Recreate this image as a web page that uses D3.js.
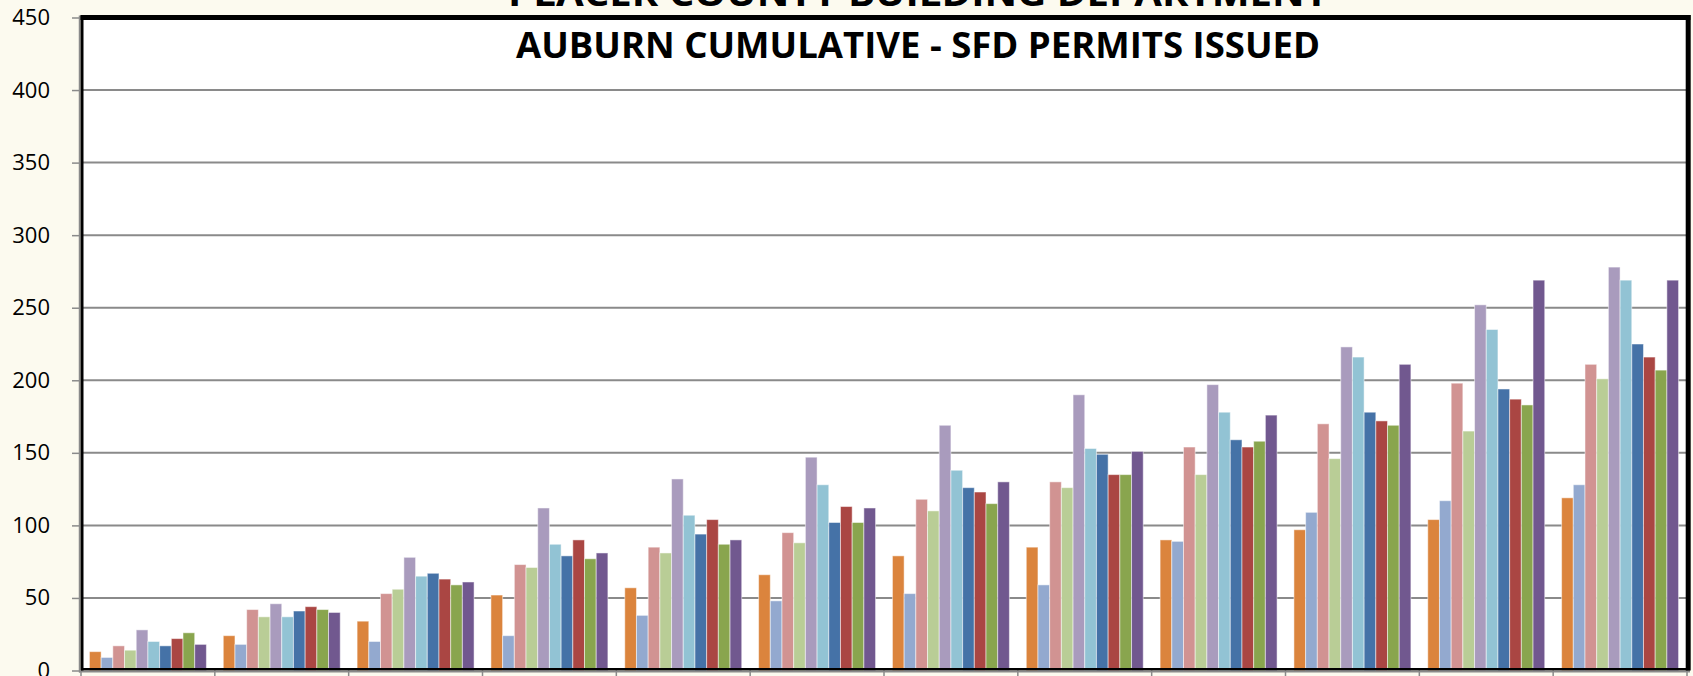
<!DOCTYPE html>
<html>
<head>
<meta charset="utf-8">
<script src="https://cdn.jsdelivr.net/npm/d3@7"></script>
<style>
  html, body { margin: 0; padding: 0; background: #FCFAEF; overflow: hidden; }
  svg { display: block; }
</style>
</head>
<body>
<svg id="chart" width="1693" height="676"></svg>
<script>
// ---------------- DATA ----------------
const months = ["Jan", "Feb", "Mar", "Apr", "May", "Jun", "Jul", "Aug", "Sep", "Oct", "Nov", "Dec"];
const seriesNames = ["Series 1", "Series 2", "Series 3", "Series 4", "Series 5",
                     "Series 6", "Series 7", "Series 8", "Series 9", "Series 10"];
const series1  = [13, 24, 34, 52, 57, 66, 79, 85, 90, 97, 104, 119];
const series2  = [9, 18, 20, 24, 38, 48, 53, 59, 89, 109, 117, 128];
const series3  = [17, 42, 53, 73, 85, 95, 118, 130, 154, 170, 198, 211];
const series4  = [14, 37, 56, 71, 81, 88, 110, 126, 135, 146, 165, 201];
const series5  = [28, 46, 78, 112, 132, 147, 169, 190, 197, 223, 252, 278];
const series6  = [20, 37, 65, 87, 107, 128, 138, 153, 178, 216, 235, 269];
const series7  = [17, 41, 67, 79, 94, 102, 126, 149, 159, 178, 194, 225];
const series8  = [22, 44, 63, 90, 104, 113, 123, 135, 154, 172, 187, 216];
const series9  = [26, 42, 59, 77, 87, 102, 115, 135, 158, 169, 183, 207];
const series10 = [18, 40, 61, 81, 90, 112, 130, 151, 176, 211, 269, 269];
const yTicks = [0, 50, 100, 150, 200, 250, 300, 350, 400, 450];
const titleLine1 = "PLACER COUNTY BUILDING DEPARTMENT";
const titleLine2 = "AUBURN CUMULATIVE - SFD PERMITS ISSUED";

const seriesValues = [series1, series2, series3, series4, series5,
                      series6, series7, series8, series9, series10];
const colors = ["#DB843D", "#93A9CF", "#D19392", "#B9CD96", "#A99BBD",
                "#92C3D4", "#4572A7", "#AA4643", "#89A54E", "#71588F"];

// ---------------- LAYOUT ----------------
const svg = d3.select("#chart");
const plot = { left: 81, right: 1687, top: 17.5, bottom: 670.5 };

// plot area background
svg.append("rect")
  .attr("x", plot.left).attr("y", plot.top)
  .attr("width", plot.right - plot.left).attr("height", plot.bottom - plot.top)
  .attr("fill", "#ffffff");

const y = d3.scaleLinear().domain([0, 450]).range([plot.bottom, plot.top]);
const pIn = 0.126;
const x0 = d3.scaleBand().domain(months).range([plot.left, plot.right])
  .paddingInner(pIn).paddingOuter(pIn / 2);
const x1 = d3.scaleBand().domain(seriesNames).range([0, x0.bandwidth()]).padding(0);

// gridlines
svg.append("g").selectAll("line")
  .data(yTicks.filter(t => t > 0 && t < 450))
  .join("line")
  .attr("x1", plot.left).attr("x2", plot.right)
  .attr("y1", d => y(d)).attr("y2", d => y(d))
  .attr("stroke", "#8a8a8a").attr("stroke-width", 2);

// y axis (ticks + labels)
const yAxis = d3.axisLeft(y).tickValues(yTicks).tickSize(8).tickPadding(22);
const gy = svg.append("g").attr("transform", `translate(${plot.left - 1},0)`).call(yAxis);
gy.select(".domain").remove();
gy.selectAll(".tick line").attr("stroke", "#8a8a8a").attr("stroke-width", 1.5);
gy.selectAll(".tick text")
  .attr("fill", "#000")
  .style("font-family", "'Open Sans', 'Liberation Sans', sans-serif")
  .style("font-size", "22px");

// bars
const groups = svg.append("g").selectAll("g")
  .data(months.map((m, i) => ({ month: m, vals: seriesValues.map((s, k) => ({ name: seriesNames[k], v: s[i], c: colors[k] })) })))
  .join("g")
  .attr("transform", d => `translate(${x0(d.month)},0)`);

groups.selectAll("rect")
  .data(d => d.vals)
  .join("rect")
  .attr("x", d => x1(d.name))
  .attr("y", d => y(d.v))
  .attr("width", x1.bandwidth())
  .attr("height", d => y(0) - y(d.v))
  .attr("fill", d => d.c)
  .attr("stroke", "rgba(255,255,255,0.5)")
  .attr("stroke-width", 1);

// x axis tick marks at category boundaries
const step = x0.step();
const boundaries = months.map(m => x0(m) - x0.paddingInner() * step / 2).concat([plot.right]);
svg.append("g").selectAll("line")
  .data(boundaries)
  .join("line")
  .attr("x1", d => d).attr("x2", d => d)
  .attr("y1", plot.bottom).attr("y2", plot.bottom + 10)
  .attr("stroke", "#8a8a8a").attr("stroke-width", 1.5);

// axis lines & plot border
svg.append("line").attr("x1", plot.left - 1.5).attr("x2", plot.left - 1.5)
  .attr("y1", plot.top - 2).attr("y2", plot.bottom + 2)
  .attr("stroke", "#8a8a8a").attr("stroke-width", 1.5);
svg.append("line").attr("x1", plot.left - 2).attr("x2", plot.right + 3)
  .attr("y1", plot.bottom + 1.2).attr("y2", plot.bottom + 1.2)
  .attr("stroke", "#8a8a8a").attr("stroke-width", 1.5);
svg.append("line").attr("x1", plot.left + 1).attr("x2", plot.left + 1)
  .attr("y1", plot.top - 2).attr("y2", plot.bottom)
  .attr("stroke", "#000").attr("stroke-width", 3);
svg.append("line").attr("x1", plot.left).attr("x2", plot.right + 3)
  .attr("y1", plot.bottom - 1.2).attr("y2", plot.bottom - 1.2)
  .attr("stroke", "#000").attr("stroke-width", 2.4);
svg.append("line").attr("x1", plot.left - 0.5).attr("x2", plot.right + 3.5)
  .attr("y1", plot.top).attr("y2", plot.top)
  .attr("stroke", "#000").attr("stroke-width", 5);
svg.append("line").attr("x1", plot.right + 1.2).attr("x2", plot.right + 1.2)
  .attr("y1", plot.top - 2.5).attr("y2", plot.bottom)
  .attr("stroke", "#000").attr("stroke-width", 5);

// titles
const titleFont = "'Open Sans', 'Liberation Sans', sans-serif";
svg.append("text")
  .attr("x", 508).attr("y", 6)
  .attr("textLength", 820).attr("lengthAdjust", "spacingAndGlyphs")
  .style("font-family", titleFont).style("font-weight", "bold").style("font-size", "36px")
  .attr("fill", "#000")
  .text(titleLine1);
svg.append("text")
  .attr("x", 516).attr("y", 57.5)
  .attr("textLength", 804).attr("lengthAdjust", "spacingAndGlyphs")
  .style("font-family", titleFont).style("font-weight", "bold").style("font-size", "36px")
  .attr("fill", "#000")
  .text(titleLine2);
</script>
</body>
</html>
